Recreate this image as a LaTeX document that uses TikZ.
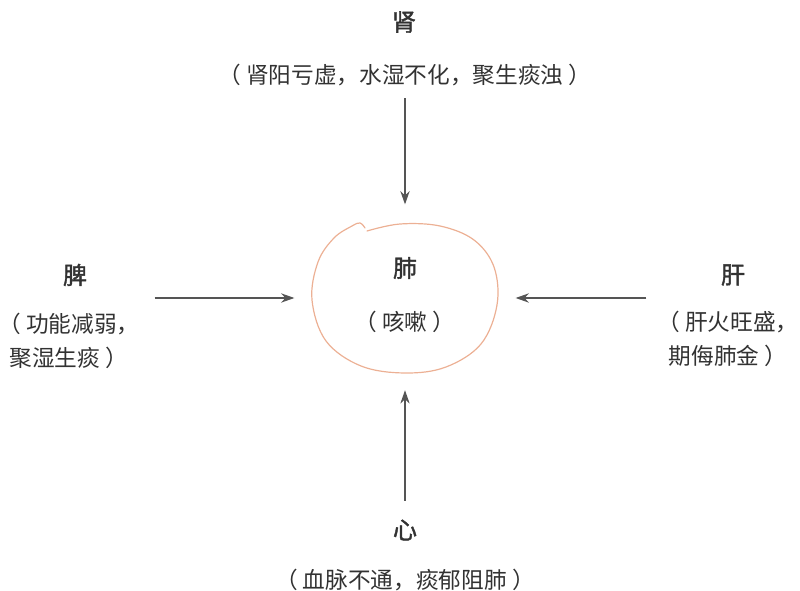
\documentclass[tikz,border=0pt]{standalone}
\usepackage{fontspec}
\usepackage{xcolor}
\usetikzlibrary{arrows.meta,shapes.geometric}
\newfontfamily\cjk{Noto Sans CJK SC}
\newfontfamily\cjkorgan[FakeBold=1.6]{Noto Sans CJK SC}
\newcommand{\lp}{（\hspace{4pt}}
\newcommand{\rp}{\hspace{4pt}）}
\definecolor{txtgray}{RGB}{50,50,50}
\definecolor{arrgray}{RGB}{85,85,85}
\definecolor{lungline}{RGB}{236,176,148}

\begin{document}
\begin{tikzpicture}[x=0.75pt, y=-0.75pt,
    every node/.style={inner sep=0pt, text=txtgray},
    organ/.style={font=\cjkorgan\fontsize{18pt}{20pt}\selectfont},
    cause/.style={font=\cjk\fontsize{17pt}{25pt}\selectfont, align=center},
    arr/.style={-{Stealth[length=10pt, width=7pt]}, line width=0.9pt, draw=arrgray}]
    \useasboundingbox (0,0) rectangle (800,591);

    % Lung in the middle
    \node[ellipse, minimum width=139.5pt, minimum height=112pt] (fei) at (405,298) {};
    \node[organ] (feiT) at (405,268) {肺};
    \node[cause] (feiS) at (405,322) {\lp 咳嗽\rp};
    \draw[lungline, line width=0.9pt, line cap=round] plot[smooth, tension=0.6] coordinates {
        (367,231) (400,224) (440,226) (474,240) (494,267) (497,305) (481,344)
        (446,367) (405,373) (361,366) (326,341) (312,300) (318,262) (334,238)
        (352,226) (360,223) (365,228)};

    % Kidney - top
    \node[organ] (shenT) at (404,22) {肾};
    \node[cause] (shenS) at (405,75) {\lp 肾阳亏虚，水湿不化，聚生痰浊\rp};

    % Spleen - left
    \node[organ] (piT) at (75,275) {脾};
    \node[cause] (piS) at (69,341) {\lp 功能减弱，\\聚湿生痰\rp};

    % Liver - right
    \node[organ] (ganT) at (733,275) {肝};
    \node[cause] (ganS) at (728,339) {\lp 肝火旺盛，\\期侮肺金\rp};

    % Heart - bottom
    \node[organ] (xinT) at (405,530) {心};
    \node[cause] (xinS) at (405,580) {\lp 血脉不通，痰郁阻肺\rp};

    % Arrows
    \draw[arr, shorten <=9pt, shorten >=14pt] (shenS.south) -- (fei.north);
    \draw[arr, shorten <=11pt, shorten >=13pt] (piS.east |- fei.west) -- (fei.west);
    \draw[arr, shorten <=8pt, shorten >=13pt] (ganS.west |- fei.east) -- (fei.east);
    \draw[arr, shorten <=14pt, shorten >=13pt] (xinT.north) -- (fei.south);
\end{tikzpicture}
\end{document}
